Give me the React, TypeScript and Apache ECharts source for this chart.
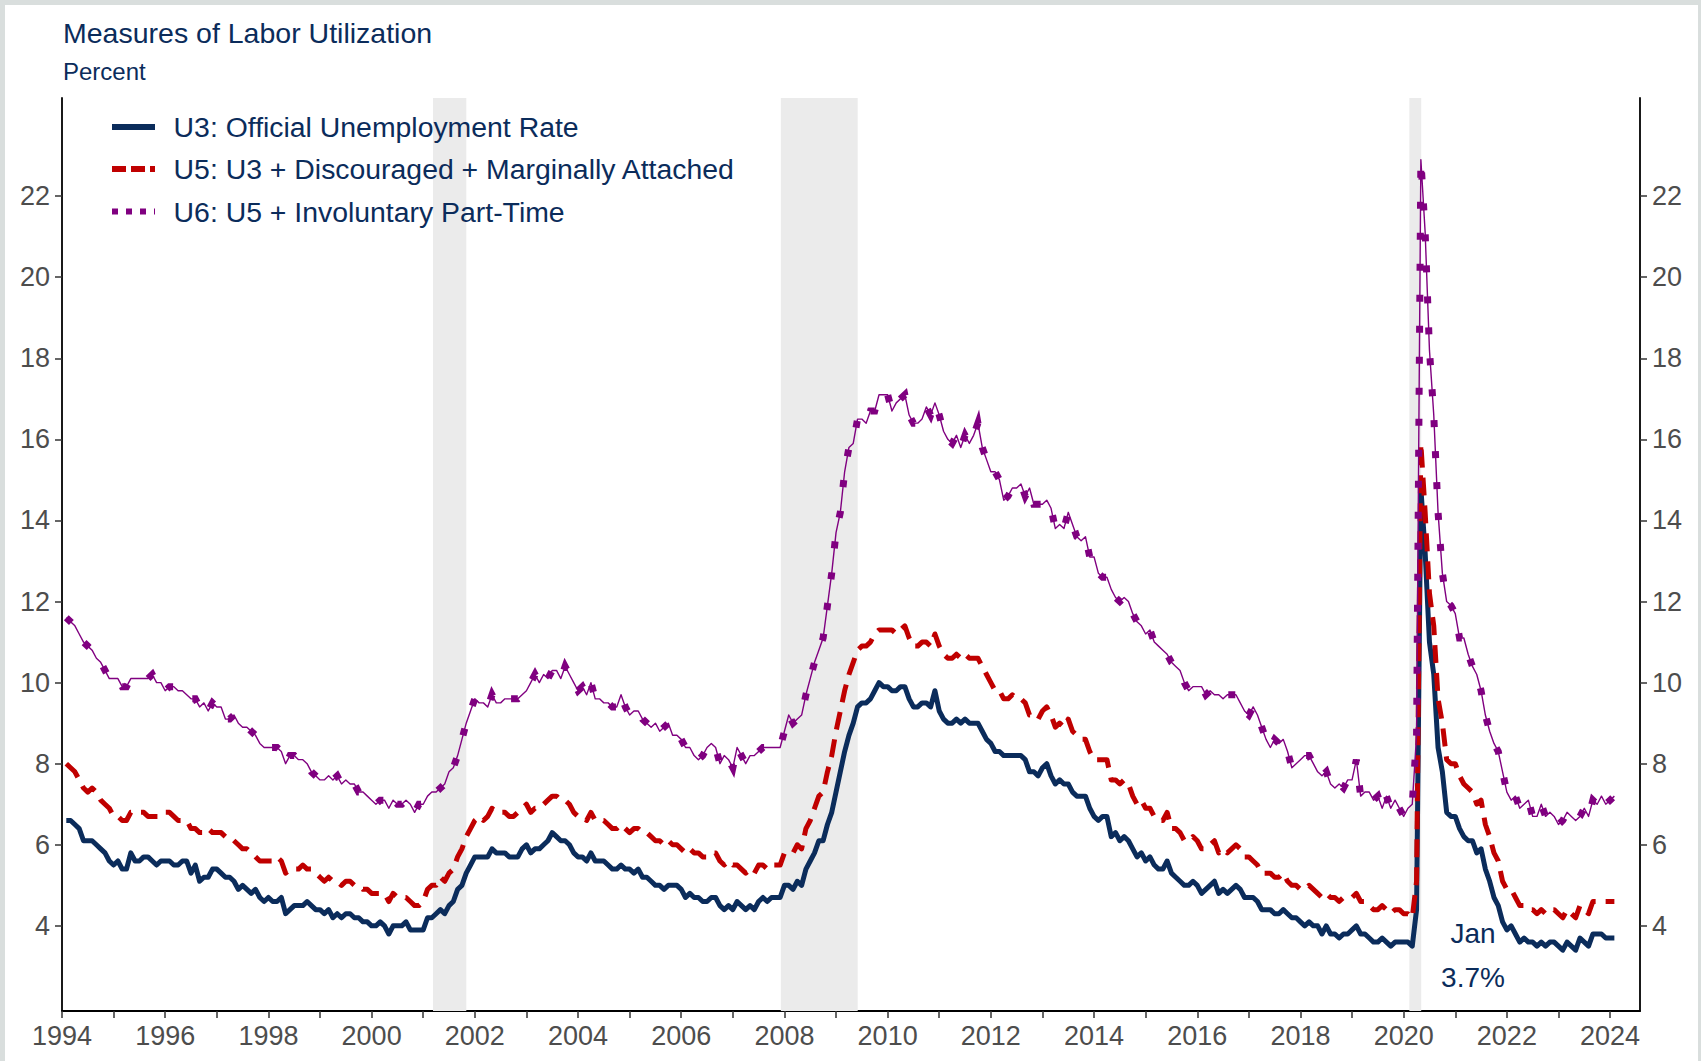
import React, { useEffect, useRef } from "react";
import * as echarts from "echarts";

// Monthly series, Jan 1994 – Jan 2024 (12 values per row, last row = Jan 2024)
const START_YEAR = 1994;

const U3 = [
  6.6, 6.6, 6.5, 6.4, 6.1, 6.1, 6.1, 6.0, 5.9, 5.8, 5.6, 5.5, // 1994
  5.6, 5.4, 5.4, 5.8, 5.6, 5.6, 5.7, 5.7, 5.6, 5.5, 5.6, 5.6, // 1995
  5.6, 5.5, 5.5, 5.6, 5.6, 5.3, 5.5, 5.1, 5.2, 5.2, 5.4, 5.4, // 1996
  5.3, 5.2, 5.2, 5.1, 4.9, 5.0, 4.9, 4.8, 4.9, 4.7, 4.6, 4.7, // 1997
  4.6, 4.6, 4.7, 4.3, 4.4, 4.5, 4.5, 4.5, 4.6, 4.5, 4.4, 4.4, // 1998
  4.3, 4.4, 4.2, 4.3, 4.2, 4.3, 4.3, 4.2, 4.2, 4.1, 4.1, 4.0, // 1999
  4.0, 4.1, 4.0, 3.8, 4.0, 4.0, 4.0, 4.1, 3.9, 3.9, 3.9, 3.9, // 2000
  4.2, 4.2, 4.3, 4.4, 4.3, 4.5, 4.6, 4.9, 5.0, 5.3, 5.5, 5.7, // 2001
  5.7, 5.7, 5.7, 5.9, 5.8, 5.8, 5.8, 5.7, 5.7, 5.7, 5.9, 6.0, // 2002
  5.8, 5.9, 5.9, 6.0, 6.1, 6.3, 6.2, 6.1, 6.1, 6.0, 5.8, 5.7, // 2003
  5.7, 5.6, 5.8, 5.6, 5.6, 5.6, 5.5, 5.4, 5.4, 5.5, 5.4, 5.4, // 2004
  5.3, 5.4, 5.2, 5.2, 5.1, 5.0, 5.0, 4.9, 5.0, 5.0, 5.0, 4.9, // 2005
  4.7, 4.8, 4.7, 4.7, 4.6, 4.6, 4.7, 4.7, 4.5, 4.4, 4.5, 4.4, // 2006
  4.6, 4.5, 4.4, 4.5, 4.4, 4.6, 4.7, 4.6, 4.7, 4.7, 4.7, 5.0, // 2007
  5.0, 4.9, 5.1, 5.0, 5.4, 5.6, 5.8, 6.1, 6.1, 6.5, 6.8, 7.3, // 2008
  7.8, 8.3, 8.7, 9.0, 9.4, 9.5, 9.5, 9.6, 9.8, 10.0, 9.9, 9.9, // 2009
  9.8, 9.8, 9.9, 9.9, 9.6, 9.4, 9.4, 9.5, 9.5, 9.4, 9.8, 9.3, // 2010
  9.1, 9.0, 9.0, 9.1, 9.0, 9.1, 9.0, 9.0, 9.0, 8.8, 8.6, 8.5, // 2011
  8.3, 8.3, 8.2, 8.2, 8.2, 8.2, 8.2, 8.1, 7.8, 7.8, 7.7, 7.9, // 2012
  8.0, 7.7, 7.5, 7.6, 7.5, 7.5, 7.3, 7.2, 7.2, 7.2, 6.9, 6.7, // 2013
  6.6, 6.7, 6.7, 6.2, 6.3, 6.1, 6.2, 6.1, 5.9, 5.7, 5.8, 5.6, // 2014
  5.7, 5.5, 5.4, 5.4, 5.6, 5.3, 5.2, 5.1, 5.0, 5.0, 5.1, 5.0, // 2015
  4.8, 4.9, 5.0, 5.1, 4.8, 4.9, 4.8, 4.9, 5.0, 4.9, 4.7, 4.7, // 2016
  4.7, 4.6, 4.4, 4.4, 4.4, 4.3, 4.3, 4.4, 4.3, 4.2, 4.2, 4.1, // 2017
  4.0, 4.1, 4.0, 4.0, 3.8, 4.0, 3.8, 3.8, 3.7, 3.8, 3.8, 3.9, // 2018
  4.0, 3.8, 3.8, 3.7, 3.6, 3.6, 3.7, 3.6, 3.5, 3.6, 3.6, 3.6, // 2019
  3.6, 3.5, 4.4, 14.8, 13.2, 11.0, 10.2, 8.4, 7.8, 6.8, 6.7, 6.7, // 2020
  6.4, 6.2, 6.1, 6.1, 5.8, 5.9, 5.4, 5.1, 4.7, 4.5, 4.1, 3.9, // 2021
  4.0, 3.8, 3.6, 3.7, 3.6, 3.6, 3.5, 3.6, 3.5, 3.6, 3.6, 3.5, // 2022
  3.4, 3.6, 3.5, 3.4, 3.7, 3.6, 3.5, 3.8, 3.8, 3.8, 3.7, 3.7, // 2023
  3.7, // 2024
];

const U5 = [
  8.0, 7.9, 7.8, 7.6, 7.4, 7.3, 7.4, 7.3, 7.1, 7.0, 6.9, 6.7, // 1994
  6.7, 6.6, 6.6, 6.8, 6.8, 6.8, 6.8, 6.7, 6.7, 6.7, 6.7, 6.8, // 1995
  6.8, 6.7, 6.6, 6.6, 6.6, 6.4, 6.4, 6.3, 6.3, 6.4, 6.3, 6.3, // 1996
  6.3, 6.2, 6.2, 6.1, 6.0, 5.9, 5.9, 5.8, 5.7, 5.6, 5.6, 5.6, // 1997
  5.6, 5.7, 5.6, 5.3, 5.4, 5.4, 5.4, 5.5, 5.4, 5.4, 5.3, 5.2, // 1998
  5.1, 5.2, 5.1, 5.1, 5.0, 5.1, 5.1, 5.0, 5.0, 4.9, 4.9, 4.8, // 1999
  4.8, 4.8, 4.8, 4.6, 4.8, 4.7, 4.7, 4.7, 4.6, 4.5, 4.5, 4.6, // 2000
  4.9, 5.0, 5.0, 5.2, 5.1, 5.3, 5.4, 5.7, 5.9, 6.2, 6.4, 6.6, // 2001
  6.7, 6.6, 6.7, 6.9, 6.8, 6.8, 6.8, 6.7, 6.7, 6.8, 6.9, 7.0, // 2002
  6.8, 6.9, 6.9, 7.0, 7.1, 7.2, 7.2, 7.1, 7.1, 7.0, 6.8, 6.7, // 2003
  6.7, 6.6, 6.8, 6.6, 6.6, 6.6, 6.5, 6.4, 6.4, 6.5, 6.4, 6.3, // 2004
  6.4, 6.4, 6.3, 6.3, 6.2, 6.1, 6.1, 6.0, 6.1, 6.0, 6.0, 5.9, // 2005
  5.8, 5.9, 5.8, 5.8, 5.7, 5.7, 5.8, 5.8, 5.6, 5.5, 5.6, 5.5, // 2006
  5.5, 5.4, 5.3, 5.4, 5.3, 5.5, 5.5, 5.4, 5.5, 5.5, 5.5, 5.8, // 2007
  5.8, 5.8, 6.0, 5.9, 6.4, 6.6, 6.9, 7.2, 7.3, 7.8, 8.2, 8.8, // 2008
  9.3, 9.8, 10.2, 10.5, 10.8, 10.9, 10.9, 11.0, 11.2, 11.3, 11.3, 11.3, // 2009
  11.3, 11.2, 11.3, 11.4, 11.1, 10.9, 10.9, 11.0, 11.0, 10.9, 11.2, 10.9, // 2010
  10.7, 10.6, 10.6, 10.7, 10.6, 10.7, 10.6, 10.6, 10.6, 10.4, 10.2, 10.0, // 2011
  9.8, 9.8, 9.6, 9.6, 9.7, 9.6, 9.6, 9.5, 9.2, 9.2, 9.1, 9.3, // 2012
  9.4, 9.2, 8.9, 9.0, 8.9, 9.1, 8.8, 8.7, 8.6, 8.6, 8.3, 8.1, // 2013
  8.1, 8.1, 8.1, 7.6, 7.6, 7.5, 7.6, 7.5, 7.2, 7.0, 7.1, 6.9, // 2014
  6.9, 6.7, 6.6, 6.6, 6.8, 6.4, 6.4, 6.3, 6.1, 6.1, 6.2, 6.1, // 2015
  5.9, 5.9, 6.0, 6.1, 5.8, 5.9, 5.8, 5.9, 6.0, 5.9, 5.7, 5.7, // 2016
  5.6, 5.5, 5.3, 5.3, 5.3, 5.2, 5.2, 5.3, 5.1, 5.0, 5.0, 4.9, // 2017
  4.9, 5.0, 4.9, 4.8, 4.7, 4.8, 4.7, 4.7, 4.6, 4.7, 4.7, 4.7, // 2018
  4.8, 4.6, 4.6, 4.5, 4.4, 4.4, 4.5, 4.4, 4.3, 4.4, 4.4, 4.3, // 2019
  4.3, 4.2, 5.1, 15.9, 14.2, 12.2, 11.4, 9.6, 9.0, 8.1, 8.0, 8.0, // 2020
  7.7, 7.5, 7.4, 7.3, 7.0, 7.1, 6.5, 6.2, 5.8, 5.6, 5.1, 4.9, // 2021
  4.9, 4.7, 4.5, 4.5, 4.4, 4.4, 4.3, 4.4, 4.3, 4.4, 4.4, 4.3, // 2022
  4.2, 4.4, 4.3, 4.2, 4.5, 4.4, 4.3, 4.6, 4.6, 4.6, 4.6, 4.6, // 2023
  4.6, // 2024
];

const U6 = [
  11.6, 11.5, 11.4, 11.2, 11.0, 10.9, 10.8, 10.6, 10.5, 10.3, 10.1, 10.1, // 1994
  10.1, 9.9, 9.9, 10.1, 10.1, 10.1, 10.1, 10.1, 10.2, 10.0, 10.0, 9.8, // 1995
  9.9, 9.9, 9.8, 9.8, 9.7, 9.6, 9.6, 9.4, 9.5, 9.3, 9.5, 9.4, // 1996
  9.4, 9.1, 9.1, 9.2, 9.0, 8.9, 8.9, 8.8, 8.7, 8.5, 8.4, 8.4, // 1997
  8.4, 8.4, 8.3, 8.0, 8.2, 8.2, 8.1, 8.1, 8.0, 7.8, 7.7, 7.6, // 1998
  7.6, 7.7, 7.6, 7.7, 7.5, 7.6, 7.5, 7.5, 7.3, 7.3, 7.2, 7.1, // 1999
  7.0, 7.1, 7.1, 6.9, 7.1, 7.0, 7.0, 7.1, 7.0, 6.8, 7.0, 7.0, // 2000
  7.2, 7.3, 7.3, 7.4, 7.5, 7.8, 7.9, 8.2, 8.6, 9.0, 9.3, 9.6, // 2001
  9.5, 9.5, 9.4, 9.7, 9.5, 9.5, 9.6, 9.6, 9.6, 9.6, 9.7, 9.8, // 2002
  10.0, 10.2, 10.0, 10.2, 10.1, 10.3, 10.3, 10.1, 10.4, 10.2, 10.0, 9.8, // 2003
  9.9, 9.7, 10.0, 9.6, 9.6, 9.5, 9.5, 9.4, 9.4, 9.7, 9.4, 9.2, // 2004
  9.3, 9.3, 9.1, 9.0, 8.9, 9.0, 8.8, 8.9, 9.0, 8.7, 8.7, 8.6, // 2005
  8.4, 8.4, 8.2, 8.1, 8.2, 8.4, 8.5, 8.4, 8.0, 8.2, 8.1, 7.9, // 2006
  8.4, 8.2, 8.0, 8.2, 8.2, 8.3, 8.4, 8.4, 8.4, 8.4, 8.4, 8.8, // 2007
  9.2, 9.0, 9.1, 9.2, 9.7, 10.1, 10.5, 10.8, 11.1, 11.9, 12.7, 13.7, // 2008
  14.2, 15.2, 15.8, 15.9, 16.5, 16.5, 16.4, 16.7, 16.7, 17.1, 17.1, 17.1, // 2009
  16.7, 16.9, 17.0, 17.1, 16.6, 16.4, 16.4, 16.5, 16.8, 16.6, 16.9, 16.6, // 2010
  16.2, 16.0, 15.9, 16.1, 15.8, 16.1, 15.9, 16.1, 16.4, 15.8, 15.5, 15.2, // 2011
  15.2, 15.0, 14.5, 14.6, 14.8, 14.8, 14.9, 14.6, 14.8, 14.4, 14.4, 14.4, // 2012
  14.5, 14.3, 13.8, 13.9, 13.8, 14.2, 13.9, 13.6, 13.5, 13.6, 13.1, 13.1, // 2013
  12.7, 12.6, 12.6, 12.3, 12.1, 12.0, 12.1, 12.0, 11.7, 11.5, 11.4, 11.2, // 2014
  11.3, 11.0, 10.9, 10.8, 10.7, 10.5, 10.4, 10.3, 10.0, 9.8, 9.9, 9.9, // 2015
  9.9, 9.7, 9.8, 9.7, 9.7, 9.6, 9.7, 9.7, 9.7, 9.5, 9.3, 9.2, // 2016
  9.4, 9.2, 8.9, 8.6, 8.4, 8.6, 8.5, 8.6, 8.3, 7.9, 8.0, 8.1, // 2017
  8.2, 8.2, 8.0, 7.8, 7.7, 7.8, 7.5, 7.4, 7.5, 7.4, 7.6, 7.6, // 2018
  8.1, 7.2, 7.3, 7.3, 7.1, 7.2, 6.9, 7.2, 6.9, 7.1, 6.9, 6.7, // 2019
  6.9, 7.0, 8.7, 22.9, 21.1, 18.2, 16.6, 14.2, 12.7, 12.0, 11.9, 11.7, // 2020
  11.1, 11.1, 10.7, 10.4, 10.2, 9.8, 9.2, 8.8, 8.5, 8.3, 7.8, 7.3, // 2021
  7.1, 7.2, 6.9, 7.0, 7.1, 6.7, 6.7, 7.0, 6.7, 6.8, 6.7, 6.5, // 2022
  6.6, 6.8, 6.7, 6.6, 6.7, 6.9, 6.7, 7.1, 7.0, 7.2, 7.0, 7.1, // 2023
  7.2, // 2024
];

const Y_TICKS = [4, 6, 8, 10, 12, 14, 16, 18, 20, 22];
const X_TICKS = [
  1994, 1995, 1996, 1997, 1998, 1999, 2000, 2001, 2002, 2003, 2004, 2005, 2006, 2007, 2008,
  2009, 2010, 2011, 2012, 2013, 2014, 2015, 2016, 2017, 2018, 2019, 2020, 2021, 2022, 2023, 2024,
];
const X_LABELS = [
  1994, 1996, 1998, 2000, 2002, 2004, 2006, 2008, 2010, 2012, 2014, 2016, 2018, 2020, 2022, 2024,
];
// Recession periods (decimal years)
const RECESSIONS = [
  [2001.19, 2001.835],
  [2007.93, 2009.42],
  [2020.11, 2020.34],
];

const LEGEND_NAMES = [
  "U3: Official Unemployment Rate",
  "U5: U3 + Discouraged + Marginally Attached",
  "U6: U5 + Involuntary Part-Time",
];
const TITLE = "Measures of Labor Utilization";
const SUBTITLE = "Percent";
const LAST_LABEL = ["Jan", "3.7%"];

const NAVY = "#0b2c5b";
const RED = "#c00000";
const PURPLE = "#800080";
const FONT = "'Liberation Sans', Arial, Helvetica, sans-serif";

const toPairs = (vals: number[]) =>
  vals.map((v, i) => [START_YEAR + (i + 1) / 12, v]);

export default function App() {
  const ref = useRef<HTMLDivElement>(null);

  useEffect(() => {
    document.body.style.margin = "0";
    if (!ref.current) return;
    const chart = echarts.init(ref.current, null, { renderer: "svg" });

    const yAxisBase = {
      type: "value" as const,
      min: 1.9,
      max: 24.42,
      axisLine: { show: true, onZero: false, lineStyle: { color: "#000", width: 1.8 } },
      axisTick: {
        show: true,
        length: 7,
        customValues: Y_TICKS,
        lineStyle: { color: "#333", width: 1.5 },
      },
      axisLabel: {
        customValues: Y_TICKS,
        color: "#4d4d4d",
        fontSize: 27,
        fontFamily: FONT,
        margin: 12,
      },
      splitLine: { show: false },
    };

    const legendY = [122, 164, 206.5];
    const graphic: any[] = [
      {
        type: "line",
        z: 100,
        shape: { x1: 107, y1: legendY[0], x2: 150, y2: legendY[0] },
        style: { stroke: NAVY, lineWidth: 6 },
      },
      {
        type: "line",
        z: 100,
        shape: { x1: 107, y1: legendY[1], x2: 150, y2: legendY[1] },
        style: { stroke: RED, lineWidth: 6, lineDash: [14, 5] },
      },
      {
        type: "line",
        z: 100,
        shape: { x1: 107, y1: legendY[2], x2: 150, y2: legendY[2] },
        style: { stroke: PURPLE, lineWidth: 6, lineDash: [6, 8] },
      },
      ...LEGEND_NAMES.map((name, i) => ({
        type: "text",
        z: 100,
        x: 168.6,
        y: legendY[i],
        style: {
          text: name,
          fill: NAVY,
          font: `28.4px ${FONT}`,
          verticalAlign: "middle",
          align: "left",
        },
      })),
      {
        type: "text",
        z: 100,
        x: 1468,
        y: 928,
        style: { text: LAST_LABEL[0], fill: NAVY, font: `28px ${FONT}`, align: "center", verticalAlign: "middle" },
      },
      {
        type: "text",
        z: 100,
        x: 1468,
        y: 972,
        style: { text: LAST_LABEL[1], fill: NAVY, font: `28px ${FONT}`, align: "center", verticalAlign: "middle" },
      },
    ];

    chart.setOption({
      animation: false,
      backgroundColor: "#ffffff",
      title: [
        {
          text: TITLE,
          left: 58,
          top: 13,
          padding: 0,
          textStyle: { color: NAVY, fontSize: 28.5, fontWeight: "normal", fontFamily: FONT, lineHeight: 29 },
        },
        {
          text: SUBTITLE,
          left: 58,
          top: 54,
          padding: 0,
          textStyle: { color: NAVY, fontSize: 24, fontWeight: "normal", fontFamily: FONT, lineHeight: 25 },
        },
      ],
      grid: { left: 57, right: 58, top: 93, bottom: 50, containLabel: false },
      xAxis: {
        type: "value",
        min: 1994,
        max: 2024.58,
        axisLine: { show: true, onZero: false, lineStyle: { color: "#000", width: 1.8 } },
        axisTick: {
          show: true,
          length: 7,
          customValues: X_TICKS,
          lineStyle: { color: "#333", width: 1.5 },
        },
        axisLabel: {
          customValues: X_LABELS,
          formatter: (v: number) => String(Math.round(v)),
          color: "#4d4d4d",
          fontSize: 27,
          fontFamily: FONT,
          margin: 11,
        },
        splitLine: { show: false },
      },
      yAxis: [
        { ...yAxisBase, position: "left" },
        { ...yAxisBase, position: "right" },
      ],
      graphic,
      series: [
        {
          type: "line",
          name: "recessions",
          data: [],
          z: 1,
          silent: true,
          markArea: {
            silent: true,
            itemStyle: { color: "#ebebeb" },
            data: RECESSIONS.map(([a, b]) => [{ xAxis: a }, { xAxis: b }]),
          },
        },
        {
          type: "line",
          name: LEGEND_NAMES[0],
          data: toPairs(U3),
          showSymbol: false,
          z: 3,
          lineStyle: { color: NAVY, width: 5, join: "round", cap: "butt" },
        },
        {
          type: "line",
          name: LEGEND_NAMES[1],
          data: toPairs(U5),
          showSymbol: false,
          z: 4,
          lineStyle: { color: RED, width: 5, type: [18, 10], join: "round", cap: "butt" },
        },
        {
          type: "line",
          name: LEGEND_NAMES[2],
          data: toPairs(U6),
          showSymbol: false,
          z: 5,
          lineStyle: { color: PURPLE, width: 1.4, join: "round" },
        },
        {
          type: "line",
          name: LEGEND_NAMES[2] + " dots",
          data: toPairs(U6),
          showSymbol: false,
          z: 6,
          lineStyle: { color: PURPLE, width: 7, type: [7, 24], cap: "butt", join: "miter" },
        },
      ],
    });

    return () => chart.dispose();
  }, []);

  return (
    <div style={{ position: "relative", width: 1701, height: 1061, background: "#d9dedd" }}>
      <div
        ref={ref}
        style={{ position: "absolute", left: 5, top: 5, width: 1693, height: 1056, background: "#fff" }}
      />
    </div>
  );
}
